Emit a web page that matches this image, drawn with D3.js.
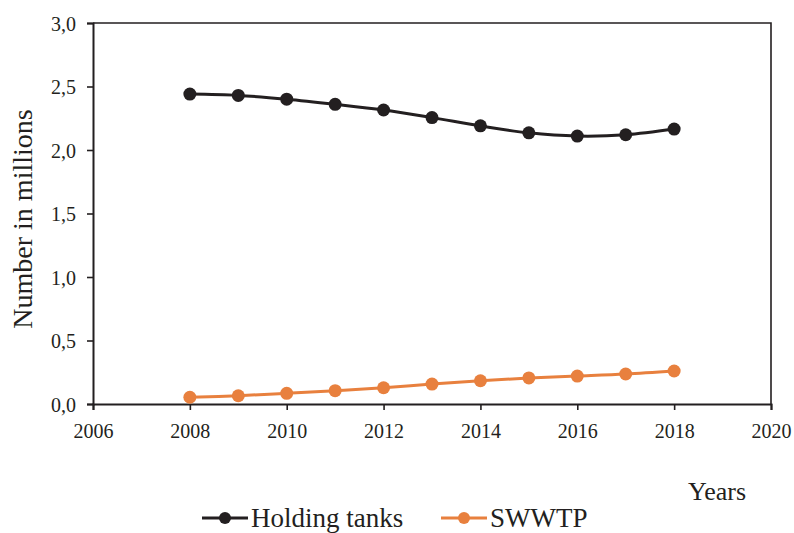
<!DOCTYPE html>
<html>
<head>
<meta charset="utf-8">
<script src="https://cdn.jsdelivr.net/npm/d3@7"></script>
<style>
  body { margin: 0; background: #fff; }
  text { font-family: "Liberation Serif", "Times New Roman", serif; fill: #231f20; }
</style>
</head>
<body>
<div id="chart"></div>
<script>
// data
const years = [2008, 2009, 2010, 2011, 2012, 2013, 2014, 2015, 2016, 2017, 2018];
const holdingTanks = [2.44, 2.43, 2.40, 2.36, 2.315, 2.255, 2.19, 2.135, 2.11, 2.12, 2.165];
const swwtp = [0.053, 0.065, 0.084, 0.105, 0.128, 0.157, 0.183, 0.205, 0.22, 0.236, 0.26];
const xTicks = [2006, 2008, 2010, 2012, 2014, 2016, 2018, 2020];
const yTicks = [0, 0.5, 1, 1.5, 2, 2.5, 3];
const seriesNames = ["Holding tanks", "SWWTP"];
const colors = ["#231f20", "#e8803e"];

const W = 794, H = 533;
const margin = { left: 93, right: 23, top: 23, bottom: 129 };
const w = W - margin.left - margin.right;
const h = H - margin.top - margin.bottom;

var svg = d3.select("#chart").append("svg")
  .attr("width", W)
  .attr("height", H);

var g = svg.append("g")
  .attr("transform", "translate(" + margin.left + "," + margin.top + ")");

var x = d3.scaleLinear().domain([2006, 2020]).range([0, w]);
var y = d3.scaleLinear().domain([0, 3]).range([h, 0]);

// plot border (top + right)
g.append("path")
  .attr("d", "M0,0H" + w + "V" + h)
  .attr("fill", "none")
  .attr("stroke", "#231f20")
  .attr("stroke-width", 1.6);

// axes
var fmt = d3.format(".1f");
var yAxis = g.append("g")
  .call(d3.axisLeft(y).tickValues(yTicks).tickSize(6).tickPadding(11)
    .tickFormat(d => fmt(d).replace(".", ",")));
var xAxis = g.append("g")
  .attr("transform", "translate(0," + h + ")")
  .call(d3.axisBottom(x).tickValues(xTicks).tickSize(6).tickPadding(14)
    .tickFormat(d3.format("d")));

[xAxis, yAxis].forEach(a => {
  a.attr("font-family", null);
  a.select(".domain").attr("stroke", "#231f20").attr("stroke-width", 2);
  a.selectAll(".tick line").attr("stroke", "#231f20").attr("stroke-width", 1.6);
  a.selectAll(".tick text").style("font-size", "20px")
    .style("font-family", "Liberation Serif").attr("fill", "#231f20");
});
yAxis.selectAll(".tick text").attr("dy", "0.35em");

// series
var line = d3.line()
  .x((d, i) => x(years[i]))
  .y(d => y(d))
  .curve(d3.curveCardinal.tension(0));

[holdingTanks, swwtp].forEach((vals, k) => {
  g.append("path")
    .datum(vals)
    .attr("d", line)
    .attr("fill", "none")
    .attr("stroke", colors[k])
    .attr("stroke-width", 3);
  g.selectAll(".dot" + k)
    .data(vals)
    .enter()
    .append("circle")
    .attr("cx", (d, i) => x(years[i]))
    .attr("cy", d => y(d))
    .attr("r", 6.5)
    .attr("fill", colors[k]);
});

// y axis title
svg.append("text")
  .attr("transform", "translate(32,219) rotate(-90)")
  .attr("text-anchor", "middle")
  .style("font-size", "28px")
  .text("Number in millions");

// x axis title
svg.append("text")
  .attr("x", 746)
  .attr("y", 500)
  .attr("text-anchor", "end")
  .style("font-size", "26px")
  .text("Years");

// legend (sits at the bottom edge, as in the original)
var legendX = [202, 441];
seriesNames.forEach((name, k) => {
  var lg = svg.append("g").attr("transform", "translate(" + legendX[k] + ",518)");
  lg.append("line")
    .attr("x1", 0).attr("x2", 46)
    .attr("stroke", colors[k]).attr("stroke-width", 3);
  lg.append("circle").attr("cx", 23).attr("r", 6).attr("fill", colors[k]);
  lg.append("text")
    .attr("x", 49)
    .attr("y", 9)
    .style("font-size", "27px")
    .text(name);
});
</script>
</body>
</html>
